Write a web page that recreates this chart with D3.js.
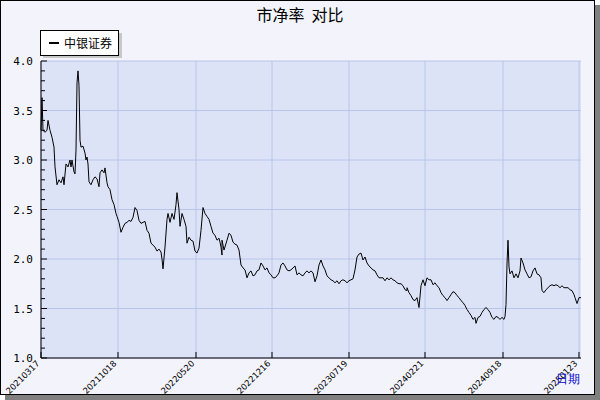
<!DOCTYPE html>
<html><head><meta charset="utf-8">
<script src="https://cdn.jsdelivr.net/npm/d3@7"></script>
<style>body{margin:0;background:#fff}svg{font-family:"DejaVu Sans",sans-serif}</style>
</head><body><svg id="c" width="600" height="400"></svg>
<script>
const title = "市净率  对比";
const seriesName = "中银证券";
const xTickPos = [0,77,155,231,308,384,462,538];
const xTickLabels = ["20210317","20211018","20220520","20221216","20230719","20240221","20240918","20250123"];
const yTicks = [1.0,1.5,2.0,2.5,3.0,3.5,4.0];
const xs = [0,1,2,4,6,7,9,11,13,14,16,18,20,22,23,25,27,29,30,31,33,34,35,36,37,38,39,40,42,44,45,46,47,48,50,52,54,56,58,59,61,63,64,66,67,69,71,73,75,76,78,80,82,84,86,88,90,92,94,96,98,100,102,104,106,108,110,112,114,116,118,120,121,122,124,126,127,129,131,133,135,136,138,139,141,143,145,146,148,150,152,154,156,158,160,162,164,166,168,170,172,174,176,178,180,181,
174+5,176+5,178+5,181+5,183+5,185+5,187+5,189+5,191+5,193+5,195+5,197+5,199+5,201+5,203+5,205+5,207+5,209+5,211+5,213+5,215+5,217+5,219+5,221+5,223+5,225+5,227+5,229+5,231+5,233+5,235+5,237+5,239+5,241+5,243+5,245+5,247+5,249+5,251+5,253+5,255+5,257+5,259+5,261+5,263+5,265+5,267+5,269+5,271+5,273+5,275+5,277+5,279+5,281+5,283+5,285+5,287+5,289+5,291+5,293+5,295+5,297+5,299+5,301+5,303+5,305+5,307+5,309+5,311+5,313+5,315+5,317+5,319+5,321+5,323+5,325+5,327+5,329+5,331+5,333+5,335+5,337+5,339+5,341+5,343+5,345+5,347+5,349+5,351+5,353+5,355+5,357+5,359+5,361+5,
362+4,364+4,366+4,368+4,370+4,372+4,374+4,376+4,378+4,380+4,382+4,384+4,386+4,388+4,390+4,392+4,394+4,396+4,398+4,400+4,402+4,404+4,406+4,408+4,410+4,412+4,414+4,416+4,418+4,420+4,422+4,424+4,426+4,428+4,430+4,431+4,433+4,435+4,437+4,439+4,441+4,443+4,445+4,447+4,449+4,451+4,453+4,455+4,457+4,459+4,460+4,461+4,462+4,463+4,464+4,465+4,467+4,469+4,471+4,473+4,475+4,476+4,478+4,480+4,482+4,484+4,486+4,488+4,490+4,492+4,494+4,496+4,497+4,499+4,501+4,503+4,505+4,507+4,509+4,511+4,513+4,515+4,517+4,519+4,521+4,523+4,525+4,527+4,529+4,530+4,532+4,534+4,536+4];
const values = [3.30,3.63,3.30,3.28,3.30,3.40,3.30,3.23,3.13,2.93,2.75,2.80,2.77,2.83,2.75,2.96,2.93,3.00,2.93,3.00,2.88,2.86,3.10,3.78,3.90,3.75,3.20,3.13,3.14,3.07,3.00,3.03,2.96,2.78,2.75,2.80,2.83,2.81,2.73,2.87,2.90,2.87,2.92,2.77,2.73,2.70,2.60,2.55,2.46,2.43,2.37,2.27,2.32,2.36,2.37,2.39,2.38,2.42,2.52,2.49,2.39,2.36,2.37,2.38,2.29,2.26,2.16,2.14,2.12,2.08,2.10,2.07,2.00,1.90,2.12,2.40,2.46,2.37,2.46,2.40,2.55,2.67,2.50,2.33,2.46,2.40,2.33,2.16,2.22,2.19,2.18,2.08,2.06,2.11,2.29,2.52,2.46,2.43,2.40,2.33,2.26,2.24,2.19,2.21,2.12,2.04,
2.17,2.19,2.09,2.19,2.26,2.24,2.17,2.15,2.14,2.09,1.94,1.91,1.89,1.81,1.86,1.88,1.83,1.84,1.88,1.89,1.96,1.93,1.89,1.91,1.86,1.84,1.81,1.81,1.83,1.86,1.94,1.96,1.93,1.89,1.88,1.89,1.91,1.93,1.84,1.86,1.84,1.83,1.86,1.88,1.86,1.88,1.86,1.77,1.83,1.94,1.99,1.93,1.89,1.83,1.81,1.79,1.78,1.76,1.78,1.75,1.78,1.79,1.78,1.76,1.78,1.79,1.80,1.89,2.02,2.05,2.06,1.99,2.02,1.96,1.93,1.91,1.89,1.88,1.84,1.81,1.81,1.81,1.78,1.81,1.79,1.81,1.79,1.78,1.76,1.75,1.75,1.73,1.69,1.68,
1.71,1.66,1.63,1.59,1.58,1.61,1.51,1.73,1.79,1.73,1.81,1.79,1.79,1.74,1.76,1.73,1.71,1.66,1.63,1.61,1.58,1.61,1.64,1.67,1.66,1.63,1.61,1.58,1.56,1.53,1.49,1.46,1.43,1.39,1.41,1.35,1.41,1.42,1.46,1.49,1.51,1.49,1.46,1.41,1.39,1.42,1.41,1.39,1.41,1.39,1.42,1.54,1.95,2.19,1.92,1.85,1.88,1.81,1.85,1.81,1.88,2.01,1.96,1.89,1.85,1.81,1.82,1.88,1.91,1.85,1.84,1.81,1.68,1.66,1.69,1.71,1.73,1.74,1.73,1.74,1.73,1.71,1.73,1.71,1.71,1.71,1.69,1.68,1.64,1.61,1.55,1.61,1.61,1.59,1.50];

const svg = d3.select("#c");
svg.append("rect").attr("x",5).attr("y",5).attr("width",595).attr("height",395).attr("fill","#808080");
svg.append("rect").attr("x",0.5).attr("y",0.5).attr("width",594).attr("height",394).attr("fill","#f3f4fb").attr("stroke","#000");
const m = {l:41,r:581,t:61,b:358};
const x = d3.scaleLinear().domain([0,538]).range([m.l,579]);
const y = d3.scaleLinear().domain([1,4]).range([m.b,m.t]);
svg.append("rect").attr("x",m.l).attr("y",m.t).attr("width",m.r-m.l).attr("height",m.b-m.t).attr("fill","#dde3f7");
const g = svg.append("g");
g.selectAll(".hg").data(yTicks).join("line").attr("x1",m.l).attr("x2",m.r).attr("y1",d=>y(d)).attr("y2",d=>y(d)).attr("stroke","#b8c4e8");
g.selectAll(".vg").data(xTickPos).join("line").attr("y1",m.t).attr("y2",m.b).attr("x1",d=>x(d)).attr("x2",d=>x(d)).attr("stroke","#b8c4e8");
const ya = svg.append("g").attr("transform",`translate(${m.l},0)`)
 .call(d3.axisLeft(y).tickValues(yTicks).tickFormat(d3.format(".1f")).tickSize(0).tickPadding(8));
ya.select(".domain").remove();
ya.selectAll("text").attr("font-size",11).attr("font-family","DejaVu Sans Mono, monospace").attr("fill","#000");
svg.append("line").attr("x1",m.l).attr("x2",m.l).attr("y1",m.t).attr("y2",m.b).attr("stroke","#000");
svg.append("line").attr("x1",m.l).attr("x2",m.r).attr("y1",m.b).attr("y2",m.b).attr("stroke","#000");
svg.selectAll(".mt").data(d3.range(10,41).map(d=>d/10)).join("line").attr("x1",m.l).attr("x2",d=>m.l+(Math.round(d*10)%5===0?6:4)).attr("y1",d=>y(d)).attr("y2",d=>y(d)).attr("stroke","#000");
svg.selectAll(".xt").data(xTickPos).join("line").attr("x1",d=>x(d)).attr("x2",d=>x(d)).attr("y1",m.b).attr("y2",m.b-6).attr("stroke","#000");
svg.selectAll(".xl").data(xTickPos).join("text").attr("font-size",8.5).attr("text-anchor","end")
 .attr("transform",(d)=>`translate(${x(d)-1},${m.b+6}) rotate(-45)`).text((d,i)=>xTickLabels[i]);
svg.append("text").attr("x",568).attr("y",383).attr("fill","#0000cc").attr("font-size",12).attr("text-anchor","middle").text("日期");
const pts = xs.map((t,i)=>[t,values[i]]).sort((a,b)=>a[0]-b[0]);
svg.append("path").datum(pts).attr("fill","none").attr("stroke","#000").attr("stroke-width",1)
 .attr("d",d3.line().x(d=>x(d[0])).y(d=>y(d[1])));
svg.append("text").attr("x",300).attr("y",21).attr("text-anchor","middle").attr("font-size",16).attr("font-family","Noto Sans CJK SC").style("white-space","pre").text(title);
svg.append("rect").attr("x",43).attr("y",33).attr("width",79).attr("height",25).attr("fill","#c8c8c8");
svg.append("rect").attr("x",40.5).attr("y",30.5).attr("width",78).attr("height",25).attr("fill","#fff").attr("stroke","#000");
svg.append("line").attr("x1",49).attr("x2",59).attr("y1",43).attr("y2",43).attr("stroke","#000").attr("stroke-width",2);
svg.append("text").attr("x",64).attr("y",48).attr("font-size",12).attr("font-family","Noto Sans CJK SC").text(seriesName);
</script></body></html>
